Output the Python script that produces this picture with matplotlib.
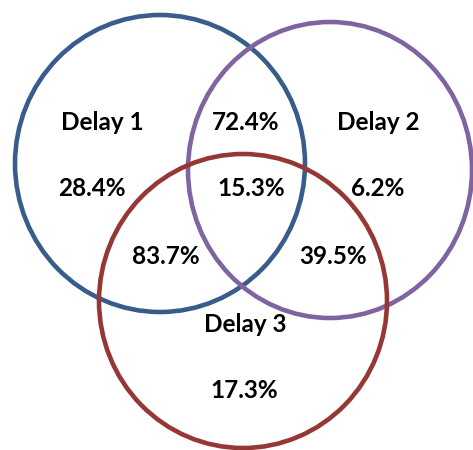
import matplotlib
matplotlib.use("Agg")
import matplotlib.pyplot as plt
from matplotlib.patches import Ellipse

# sets and their share values (percent)
set_names = ["Delay 1", "Delay 2", "Delay 3"]
set_colors = ["#385D8A", "#8064A2", "#953735"]

region_keys = ["1", "12", "2", "123", "13", "23", "3"]
region_values = [28.4, 72.4, 6.2, 15.3, 83.7, 39.5, 17.3]

# layout in pixel coordinates (image is 473 x 450)
circle_centers = [(160, 163.5), (330, 170), (243, 301)]
circle_sizes = [(290, 297), (284, 296), (288, 294)]
name_pos = [(102, 122), (378, 122), (245, 324)]
region_pos = {
    "1": (92, 189),
    "12": (246, 122),
    "2": (378, 189),
    "123": (251, 189),
    "13": (166, 257),
    "23": (333, 257),
    "3": (244, 391),
}

plt.rcParams['font.family'] = ['Lato', 'DejaVu Sans']

fig = plt.figure(figsize=(4.73, 4.5), dpi=100)
ax = fig.add_axes([0, 0, 1, 1])
ax.set_xlim(0, 473)
ax.set_ylim(450, 0)
ax.axis("off")

for (cx, cy), (w, h), col in zip(circle_centers, circle_sizes, set_colors):
    ax.add_patch(Ellipse((cx, cy), w, h, fill=False, edgecolor=col, linewidth=3.3))

for name, (x, y) in zip(set_names, name_pos):
    ax.text(x, y, name, ha="center", va="center", fontsize=17.5, fontweight="bold", color="black")

for key, val in zip(region_keys, region_values):
    x, y = region_pos[key]
    ax.text(x, y, f"{val:.1f}%", ha="center", va="center", fontsize=17.5, fontweight="bold", color="black")

fig.savefig("out.png", dpi=100)
